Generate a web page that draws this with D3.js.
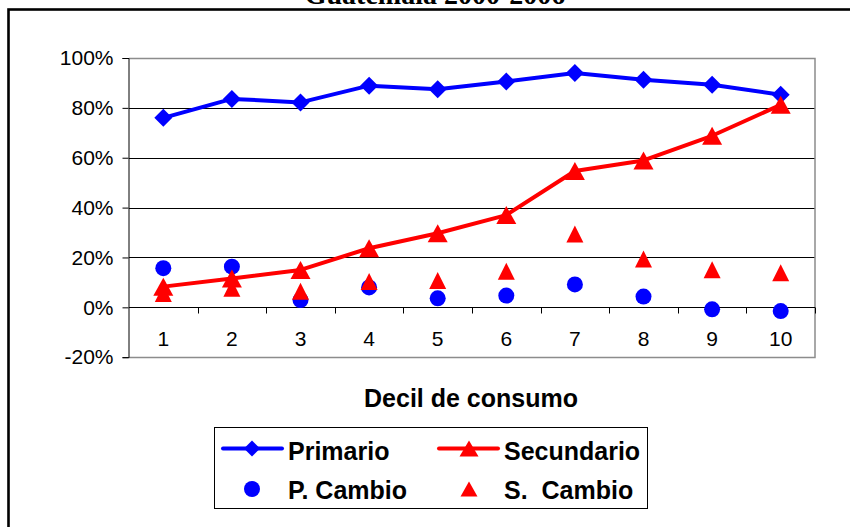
<!DOCTYPE html>
<html>
<head>
<meta charset="utf-8">
<script src="https://cdn.jsdelivr.net/npm/d3@7"></script>
<style>
  html, body { margin: 0; padding: 0; background: #fff; }
  svg { display: block; }
</style>
</head>
<body>
<svg id="chart" width="850" height="527"></svg>
<script>
// ---- data ----
const title = "Guatemala 2000-2006";
const deciles = ["1","2","3","4","5","6","7","8","9","10"];
const primario   = [0.76, 0.836, 0.822, 0.889, 0.875, 0.906, 0.94, 0.913, 0.893, 0.853];
const secundario = [0.083, 0.116, 0.15, 0.237, 0.297, 0.37, 0.547, 0.589, 0.688, 0.812];
const pCambio    = [0.157, 0.163, 0.029, 0.08, 0.036, 0.047, 0.092, 0.043, -0.008, -0.015];
const sCambio    = [0.055, 0.077, 0.065, 0.104, 0.108, 0.145, 0.294, 0.194, 0.151, 0.139];
const yTicks = [-0.2, 0, 0.2, 0.4, 0.6, 0.8, 1.0];
const yTickLabels = ["-20%", "0%", "20%", "40%", "60%", "80%", "100%"];
const xTitle = "Decil de consumo";
const legendLabels = ["Primario", "Secundario", "P. Cambio", "S.\u00a0\u00a0Cambio"];

const BLUE = "#0000ff", RED = "#ff0000";
const SANS = "'Liberation Sans', Arial, sans-serif";

const svg = d3.select("#chart");

// outer frame (extends beyond right/bottom edges)
svg.append("rect").attr("x", 8.5).attr("y", 9.5).attr("width", 900).attr("height", 600)
  .attr("fill", "none").attr("stroke", "#000").attr("stroke-width", 2.6);

// title (mostly clipped at top, as in the reference)
svg.append("text").attr("x", 435).attr("y", 4).attr("text-anchor", "middle")
  .attr("font-family", "'Liberation Serif', 'Times New Roman', serif")
  .attr("font-weight", "bold").attr("font-size", 28).text(title);

const x = d3.scaleBand().domain(deciles).range([129, 815]);
const y = d3.scaleLinear().domain([-0.2, 1.0]).range([357.2, 58]);
const cx = d => x(d) + x.bandwidth() / 2;

const plot = svg.append("g");

// gridlines
plot.selectAll("line.grid").data(yTicks.filter(t => t >= 0 && t < 1))
  .enter().append("line")
  .attr("x1", 129).attr("x2", 815)
  .attr("y1", d => Math.round(y(d)) + 0.5).attr("y2", d => Math.round(y(d)) + 0.5)
  .attr("stroke", "#000").attr("stroke-width", 1);

// plot area border (gray)
plot.append("path")
  .attr("d", `M129,${Math.round(y(1)) + 0.5}H815V${Math.round(y(-0.2)) + 0.5}H129`)
  .attr("fill", "none").attr("stroke", "#8c8c8c").attr("stroke-width", 1.5);

// y axis
const yAxis = d3.axisLeft(y).tickValues(yTicks).tickFormat((d, i) => yTickLabels[i]).tickSize(6).tickPadding(9);
const gy = svg.append("g").attr("transform", "translate(128.5,0)").call(yAxis);
gy.select(".domain").attr("stroke", "#000");
gy.selectAll(".tick line").attr("stroke", "#000");
gy.selectAll("text").attr("font-family", SANS).attr("font-size", 21).attr("fill", "#000");

// x axis at 0
const zeroY = Math.round(y(0)) + 0.5;
const xAxis = d3.axisBottom(x).tickSize(0).tickPadding(0);
const gx = svg.append("g").attr("transform", `translate(0,${zeroY})`).call(xAxis);
gx.select(".domain").remove();
gx.selectAll("text").attr("font-family", SANS).attr("font-size", 21).attr("fill", "#000")
  .attr("y", 38).attr("dy", 0);
gx.append("line").attr("x1", 129).attr("x2", 815).attr("stroke", "#000");
gx.selectAll("line.tk").data(deciles).enter().append("line")
  .attr("x1", d => Math.round(x(d) + x.bandwidth()) + 0.5)
  .attr("x2", d => Math.round(x(d) + x.bandwidth()) + 0.5)
  .attr("y1", 0).attr("y2", 6).attr("stroke", "#000");

// x title
svg.append("text").attr("x", 471).attr("y", 407).attr("text-anchor", "middle")
  .attr("font-family", SANS).attr("font-weight", "bold").attr("font-size", 25).text(xTitle);

// symbol helpers
function diamond(g, px, py, r, color) {
  g.append("path").attr("d", `M${px},${py - r}L${px + r},${py}L${px},${py + r}L${px - r},${py}Z`).attr("fill", color);
}
function triangle(g, px, py, w, h, color) {
  g.append("path").attr("d", `M${px},${py - h / 2}L${px + w / 2},${py + h / 2}L${px - w / 2},${py + h / 2}Z`).attr("fill", color);
}

const line = d3.line().x((d, i) => cx(deciles[i])).y(d => y(d));

// P. Cambio circles
const gP = svg.append("g");
pCambio.forEach((v, i) => gP.append("circle").attr("cx", cx(deciles[i])).attr("cy", y(v)).attr("r", 8).attr("fill", BLUE));

// S. Cambio triangles
const gS = svg.append("g");
sCambio.forEach((v, i) => triangle(gS, cx(deciles[i]), y(v), 17, 17, RED));

// Primario
svg.append("path").datum(primario).attr("d", line).attr("fill", "none")
  .attr("stroke", BLUE).attr("stroke-width", 4).attr("stroke-linejoin", "round");
const gD = svg.append("g");
primario.forEach((v, i) => diamond(gD, cx(deciles[i]), y(v), 9, BLUE));

// Secundario
svg.append("path").datum(secundario).attr("d", line).attr("fill", "none")
  .attr("stroke", RED).attr("stroke-width", 4).attr("stroke-linejoin", "round");
const gT = svg.append("g");
secundario.forEach((v, i) => triangle(gT, cx(deciles[i]), y(v), 20, 18, RED));

// legend
const lg = svg.append("g");
lg.append("rect").attr("x", 214.5).attr("y", 427.5).attr("width", 433).attr("height", 81)
  .attr("fill", "#fff").attr("stroke", "#000").attr("stroke-width", 1);
const row1 = 448.5, row2 = 489;
lg.append("line").attr("x1", 223).attr("x2", 282).attr("y1", row1).attr("y2", row1)
  .attr("stroke", BLUE).attr("stroke-width", 4).attr("stroke-linecap", "round");
diamond(lg, 252, row1, 8, BLUE);
lg.append("line").attr("x1", 439).attr("x2", 498).attr("y1", row1).attr("y2", row1)
  .attr("stroke", RED).attr("stroke-width", 4).attr("stroke-linecap", "round");
triangle(lg, 469, row1, 19, 16, RED);
lg.append("circle").attr("cx", 252).attr("cy", row2).attr("r", 8).attr("fill", BLUE);
triangle(lg, 469, row2, 17, 15, RED);
const lpos = [[288, 460], [504, 460], [288, 499], [504, 499]];
legendLabels.forEach((t, i) => lg.append("text").attr("x", lpos[i][0]).attr("y", lpos[i][1])
  .attr("font-family", SANS).attr("font-weight", "bold").attr("font-size", 25).text(t));
</script>
</body>
</html>
